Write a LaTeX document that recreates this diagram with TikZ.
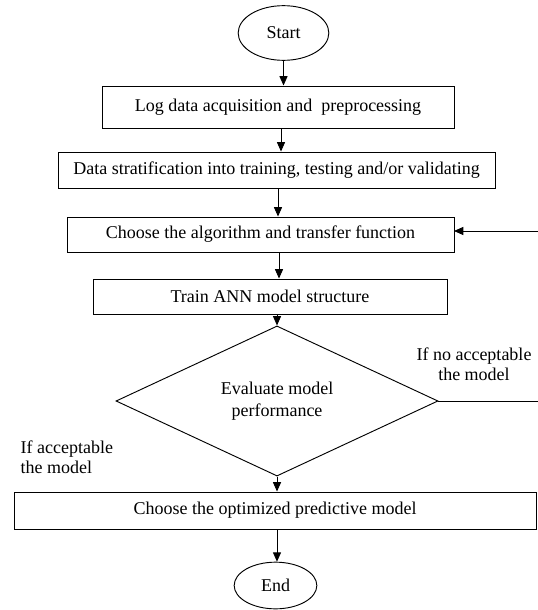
\documentclass[tikz,border=0pt]{standalone}
\usepackage{fontspec}
\setmainfont{Liberation Serif}
\usetikzlibrary{arrows.meta,shapes.geometric,calc}
\tikzset{
  flowbox/.style={draw=black,line width=0.7pt,rectangle,minimum height=26.25pt,inner sep=2pt},
  flowend/.style={draw=black,line width=0.7pt,ellipse,inner sep=1pt},
  flowchk/.style={draw=black,line width=0.7pt,diamond,align=center,inner sep=0pt},
  flowarr/.style={line width=0.7pt,-{Triangle[length=7pt,width=6pt]}},
  flowlbl/.style={font=\fontsize{13.5}{15}\selectfont}
}
\begin{document}
\begin{tikzpicture}[x=0.75pt,y=-0.75pt,font=\fontsize{13.5}{16}\selectfont]
\clip (0,0) rectangle (538,610);
% terminals
\node[flowend,minimum width=68pt,minimum height=41pt] (start) at (283.5,33) {Start};
\node[flowend,minimum width=62pt,minimum height=35pt] (end) at (275.5,585.5) {End};
% steps
\node[flowbox,minimum width=264pt,minimum height=31.5pt] (acq) at (278,107) {Log data acquisition and\ \ preprocessing};
\node[flowbox,minimum width=327.75pt,minimum height=27pt] (strat) at (276.5,170) {Data stratification into training, testing and/or validating};
\node[flowbox,minimum width=290.25pt] (algo) at (260.5,234.5) {Choose the algorithm and transfer function};
\node[flowbox,minimum width=265.5pt] (train) at (270,296.5) {Train ANN model structure};
\node[flowchk,minimum width=241.5pt,minimum height=88pt] (eval) at (277,401) {Evaluate model\\performance};
\node[flowbox,minimum width=391.5pt,minimum height=27.75pt] (pick) at (275,510.5) {Choose the optimized predictive model};
% decisions
\node[flowlbl,align=center] (nolbl) at (474,364) {If no acceptable\\the model};
\node[flowlbl,align=left,anchor=west] (oklbl) at (16,457) {If acceptable\\the model};
% arrow columns
\coordinate (c1) at (281,0);
\coordinate (c2) at (278,0);
\coordinate (c3) at (279,0);
\coordinate (c4) at (277,0);
% connectors
\draw[flowarr] (start.south) -- (start.south |- acq.north);
\draw[flowarr] (acq.south -| c1) -- (strat.north -| c1);
\draw[flowarr] (strat.south -| c2) -- (algo.north -| c2);
\draw[flowarr] (algo.south -| c3) -- (train.north -| c3);
\draw[flowarr] (train.south -| eval.north) -- (eval.north);
\draw[flowarr] (eval.south) -- (eval.south |- pick.north);
\draw[flowarr] (pick.south -| c4) -- (end.north -| c4);
% feedback loop
\coordinate (back) at (548,401);
\coordinate (into) at (454,231);
\draw[flowarr] (eval.east) -- (back) |- (into);
\end{tikzpicture}
\end{document}
